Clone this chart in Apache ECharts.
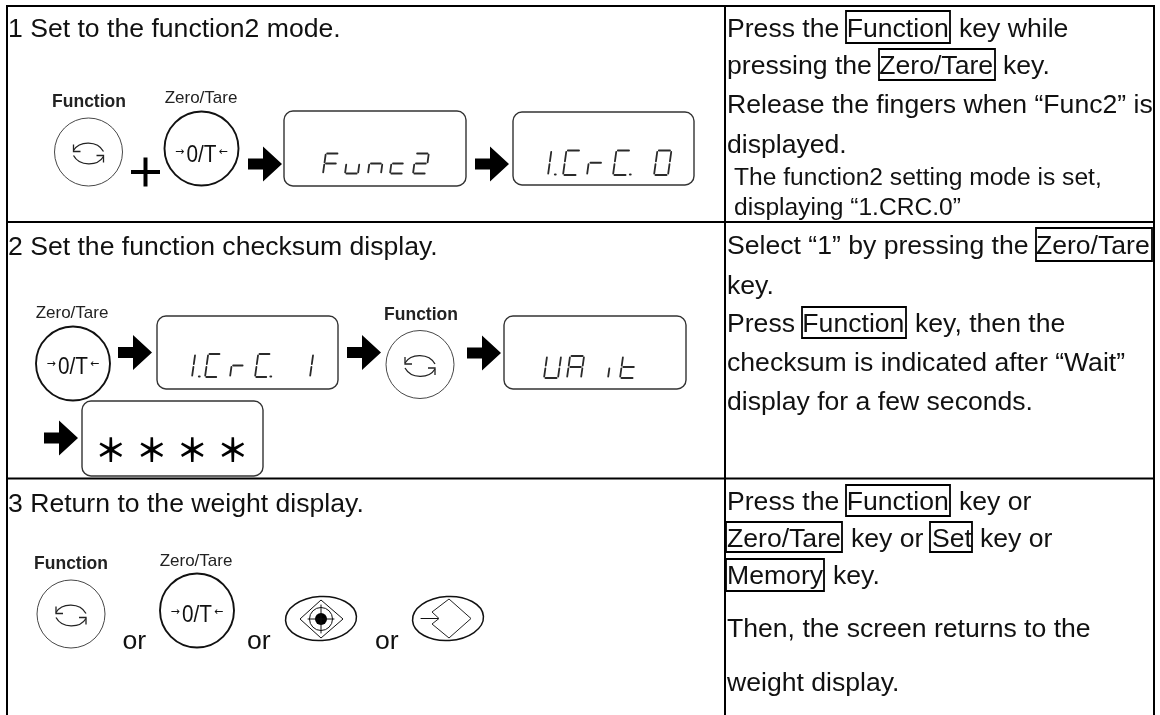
<!DOCTYPE html>
<html>
<head>
<meta charset="utf-8">
<style>html,body{margin:0;padding:0;background:#fff}#c{width:1160px;height:715px}</style>
<script src="https://cdn.jsdelivr.net/npm/echarts@6/dist/echarts.min.js"></script>
</head>
<body>
<div id="c"></div>
<script>
// ---- content ----
const stepTitles = ['1 Set to the function2 mode.', '2 Set the function checksum display.', '3 Return to the weight display.'];
// "|" marks where a line is set as separately spaced runs
const notesStep1 = ['Press the Function|key while', 'pressing the Zero/Tare|key.', 'Release the fingers when “Func2” is', 'displayed.'];
const notesStep1Small = ['The function2 setting mode is set,', 'displaying “1.CRC.0”'];
const notesStep2 = ['Select “1” by pressing the Zero/Tare', 'key.', 'Press Function|key, then the', 'checksum is indicated after “Wait”', 'display for a few seconds.'];
const notesStep3 = ['Press the Function|key or', 'Zero/Tare|key or|Set|key or', 'Memory|key.', 'Then, the screen returns to the', 'weight display.'];
const keyNames = ['Function', 'Zero/Tare', 'Set', 'Memory'];
const connective = 'or';
const displayFunc = ['F', 'u', 'n', 'c', '2'];
const displayCrc0 = ['1.', 'C', 'r', 'C.', '0'];
const displayCrc1 = ['1.', 'C', 'r', 'C.', '1'];
const displayWait = ['U', 'A', 'i', 't'];
const displayStars = ['＊', '＊', '＊', '＊'];

// seven-segment glyph table
const segmentsOf = {F:'afge', u:'edc', n:'egc', c:'ged', 2:'abged', 1:'ef', C:'afed', r:'eg', 0:'abcdef', U:'bcdef', A:'abcefg', i:'e', t:'fged'};

// ---- drawing helpers ----
const els = [];
const SANS = '"Liberation Sans", Arial, sans-serif';
const rect = (x, y, w, h) => els.push({type:'rect', shape:{x, y, width:w, height:h}, style:{fill:'#000'}, silent:true});
const text = (t, x, y, size, opt = {}) => els.push({type:'text', silent:true, x, y, scaleX:opt.scaleX || 1, style:{
  text:t, x:0, y:0, font:(opt.weight || 'normal') + ' ' + size + 'px ' + (opt.family || SANS),
  fill:opt.color || '#111', textAlign:opt.align || 'left', textVerticalAlign:'middle', verticalAlign:'middle'}});
const line = (x1, y1, x2, y2, w = 1.5, color = '#222') => els.push({type:'line', silent:true, shape:{x1, y1, x2, y2}, style:{stroke:color, lineWidth:w, lineCap:'round'}});
const poly = (pts, w = 1.3, color = '#222') => els.push({type:'polyline', silent:true, shape:{points:pts}, style:{stroke:color, lineWidth:w, fill:null}});
const curve = (x1, y1, cpx1, cpy1, cpx2, cpy2, x2, y2, w = 1.3, color = '#222') => els.push({type:'bezierCurve', silent:true, shape:{x1, y1, cpx1, cpy1, cpx2, cpy2, x2, y2}, style:{stroke:color, lineWidth:w, fill:null}});
const circle = (cx, cy, r, w, color) => els.push({type:'circle', silent:true, shape:{cx, cy, r}, style:{stroke:color, lineWidth:w, fill:'#fff'}});
const keyBox = (x, y, w, h) => els.push({type:'rect', silent:true, shape:{x, y, width:w, height:h}, style:{stroke:'#000', lineWidth:1.8, fill:null}});
const ellipse = (cx, cy) => els.push({type:'ellipse', silent:true, rotation:0.06, originX:cx, originY:cy, shape:{cx, cy, rx:35.5, ry:22}, style:{stroke:'#111', lineWidth:1.5, fill:'#fff'}});

function arrow(x, y) {
  els.push({type:'polygon', silent:true, shape:{points:[[x, y-5.5], [x+15, y-5.5], [x+15, y-17.5], [x+34, y], [x+15, y+17.5], [x+15, y+5.5], [x, y+5.5]]}, style:{fill:'#000'}});
}
function functionKey(cx, cy, lx, ly) {
  circle(cx, cy, 34, 0.9, '#333');
  const y = cy + 1.5;
  curve(cx+15, y-2, cx+9, y-13, cx-9, y-13, cx-15, y-3);
  poly([[cx-15, y-9], [cx-15, y-2], [cx-8, y-2]]);
  curve(cx-15, y+2, cx-9, y+13, cx+9, y+13, cx+15, y+3);
  poly([[cx+15, y+9], [cx+15, y+2], [cx+8, y+2]]);
  text(keyNames[0], lx, ly, 17.5, {weight:'bold', align:'center', color:'#222'});
}
function zeroTareKey(cx, cy, lx, ly, ty) {
  circle(cx, cy, 37, 1.9, '#111');
  text('0/T', cx, ty, 24, {align:'center', scaleX:0.865});
  text('→', cx - 22, ty - 3, 11, {align:'center', family:'"DejaVu Sans"'});
  text('←', cx + 21.5, ty - 3, 11, {align:'center', family:'"DejaVu Sans"'});
  text(keyNames[1], lx, ly, 17, {align:'center', color:'#222'});
}
function display(x, y, w, h) {
  els.push({type:'rect', silent:true, shape:{x, y, width:w, height:h, r:9}, style:{stroke:'#333', lineWidth:1.4, fill:'#fff'}});
}
// one 7-seg glyph with lower-left at (x, y+h), slanted
function glyph(ch, x, y, w, h) {
  const dot = ch.endsWith('.');
  const k = dot ? ch[0] : ch;
  const s = h * 0.14;               // slant offset
  const P = (u, v) => [x + u * w + (1 - v) * s, y + v * h];
  const seg = {a:[[0.1,0],[0.9,0]], b:[[1,0.06],[1,0.44]], c:[[1,0.56],[1,0.94]], d:[[0.1,1],[0.9,1]], e:[[0,0.56],[0,0.94]], f:[[0,0.06],[0,0.44]], g:[[0.12,0.5],[0.88,0.5]]};
  for (const c of segmentsOf[k]) {
    const a = P(seg[c][0][0], seg[c][0][1]), b = P(seg[c][1][0], seg[c][1][1]);
    line(a[0], a[1], b[0], b[1], 1.8, '#2a2a2a');
  }
  if (dot) { const dx = k === '1' ? 7 : w + 3; line(x + dx, y + h - 0.5, x + dx + 0.6, y + h - 0.5, 2.2, '#2a2a2a'); }
}
function word(chars, xs, y, w, h) { chars.forEach((c, i) => glyph(c, xs[i], y, w, h)); }
// a note line made of runs placed at given left edges
function runs(line, xs, y, size) { line.split('|').forEach((t, i) => text(t, xs[i], y, size)); }

// ---- table frame ----
rect(6, 5, 1149, 2); rect(6, 221, 1149, 2); rect(6, 477.5, 1149, 2);
rect(6, 5, 2, 710); rect(724, 5, 2, 710); rect(1153, 5, 2, 710);

// ---- step headings ----
const BIG = 26.6, SMALL = 24.6;
text(stepTitles[0], 8, 30, BIG);
text(stepTitles[1], 8, 248, BIG);
text(stepTitles[2], 8, 505, BIG);

// ---- step 1 diagram ----
functionKey(88.5, 152, 89, 102.5);
zeroTareKey(201.5, 148.5, 201, 98.5, 155);
rect(131, 170, 29, 4); rect(143.5, 157.5, 4, 29);
arrow(248, 164);
display(284, 111, 182, 75);
word(displayFunc, [323, 345, 368, 390, 413], 153.5, 13, 20);
arrow(475, 164);
display(513, 112, 181, 73);
word(displayCrc0, [548, 563, 587, 613, 654], 150.5, 14, 24.5);

// ---- step 2 diagram ----
zeroTareKey(73, 363.5, 72, 313, 367);
arrow(118, 352.5);
display(157, 316, 181, 73);
word(displayCrc1, [192, 205, 230, 255, 310], 354, 12.5, 23);
arrow(347, 352.5);
functionKey(420, 364.5, 421, 315);
arrow(467, 353);
display(504, 316, 182, 73);
word(displayWait, [544, 567, 608, 620], 356, 14, 22);
arrow(44, 438);
display(82, 401, 181, 75);
displayStars.forEach((s, i) => text(s, [110.7, 151.7, 192.2, 232.7][i], 450, 32, {align:'center', color:'#000', weight:'bold', family:'"Noto Sans CJK JP"'}));

// ---- step 3 diagram ----
functionKey(71, 614, 71, 564);
text(connective, 122.5, 642, BIG);
zeroTareKey(197, 610.5, 196, 561, 615);
text(connective, 247, 642, BIG);
ellipse(321, 618.5);
els.push({type:'polygon', silent:true, shape:{points:[[321, 600], [343, 619], [321, 638], [300, 619]]}, style:{stroke:'#111', lineWidth:1, fill:null}});
els.push({type:'circle', silent:true, shape:{cx:321, cy:619, r:11.5}, style:{stroke:'#111', lineWidth:1, fill:null}});
els.push({type:'circle', silent:true, shape:{cx:321, cy:619, r:6}, style:{fill:'#000'}});
line(308, 619, 334, 619, 1, '#111'); line(321, 605, 321, 633, 1, '#111');
text(connective, 375, 642, BIG);
ellipse(448, 618.5);
els.push({type:'polygon', silent:true, shape:{points:[[449, 599], [471, 618.5], [449, 638], [432, 624], [439, 618.5], [432, 612]]}, style:{stroke:'#222', lineWidth:1, fill:null}});
line(421, 618.5, 438, 618.5, 1, '#111');

// ---- right column ----
const X = 727;
const xs1 = [[X, 959], [X, 1003], [X], [X]];
const xs2 = [[X], [X], [X, 915], [X], [X]];
const xs3 = [[X, 959], [X, 851, 932, 980], [X, 833], [X], [X]];
notesStep1.forEach((t, i) => runs(t, xs1[i], [30, 66.5, 106, 145.5][i], BIG));
notesStep1Small.forEach((t, i) => text(t, 734, [178, 208][i], SMALL));
notesStep2.forEach((t, i) => runs(t, xs2[i], [247, 287, 325, 364, 403][i], BIG));
notesStep3.forEach((t, i) => runs(t, xs3[i], [503, 540, 577, 630, 684][i], BIG));
keyBox(846, 11, 104, 32); keyBox(879, 49, 116, 31);
keyBox(1036, 228, 116, 33); keyBox(802, 307, 104, 31);
keyBox(846, 485, 104, 31); keyBox(726, 522, 116, 30); keyBox(930, 522, 42, 30); keyBox(726, 559, 98, 32);

const chart = echarts.init(document.getElementById('c'), null, {renderer:'canvas'});
chart.setOption({backgroundColor:'#fff', animation:false, graphic:{elements:els}});
</script>
</body>
</html>
